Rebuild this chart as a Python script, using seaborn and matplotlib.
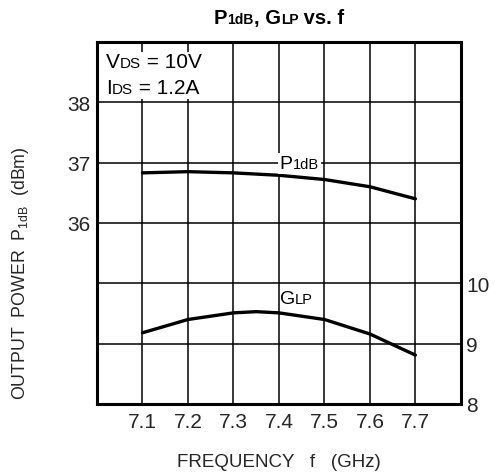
import pandas as pd
import matplotlib
matplotlib.use("Agg")
import matplotlib.pyplot as plt
from matplotlib.patches import Rectangle
from matplotlib.offsetbox import TextArea, HPacker, AnnotationBbox
import seaborn as sns

# data
freq = [7.1, 7.2, 7.3, 7.4, 7.5, 7.6, 7.7]
p1db = [36.83, 36.85, 36.83, 36.79, 36.72, 36.60, 36.40]
glp_freq = [7.1, 7.2, 7.3, 7.35, 7.4, 7.5, 7.6, 7.7]
glp = [9.18, 9.40, 9.51, 9.53, 9.51, 9.40, 9.16, 8.81]

x_grid = [7.0, 7.1, 7.2, 7.3, 7.4, 7.5, 7.6, 7.7, 7.8]
x_labels = ['', '7.1', '7.2', '7.3', '7.4', '7.5', '7.6', '7.7', '']
left_grid = [33, 34, 35, 36, 37, 38, 39]
left_ticks = [36, 37, 38]
right_ticks = [8, 9, 10]

sns.set_style("white")
plt.rcParams['font.family'] = ['Liberation Sans', 'DejaVu Sans']
plt.rcParams['mathtext.fontset'] = 'custom'
plt.rcParams['mathtext.rm'] = 'Liberation Sans'


def rich(ax, pieces, xy, coords, align=(0, 0.5), bg=False, weight='normal'):
    # text with small-caps style subscripts sitting on the baseline
    areas = [TextArea(t, textprops=dict(fontsize=s, fontweight=weight, color='black'))
             for t, s in pieces]
    box = HPacker(children=areas, align='baseline', pad=0, sep=0)
    ab = AnnotationBbox(box, xy, xycoords=coords, box_alignment=align,
                        frameon=bg, pad=0.15, annotation_clip=False,
                        bboxprops=dict(facecolor='white', edgecolor='none'))
    ab.set_zorder(3)
    ax.add_artist(ab)


fig = plt.figure(figsize=(4.95, 4.77), dpi=100)
ax = fig.add_axes([0.196, 0.151, 0.735, 0.759])

df_p = pd.DataFrame({'f': freq, 'p': p1db})
sns.lineplot(data=df_p, x='f', y='p', ax=ax, color='black', linewidth=2.4)

ax.set_xlim(7.0, 7.8)
ax.set_ylim(33, 39)
ax.set_xticks(x_grid)
ax.set_xticklabels(x_labels)
ax.set_yticks(left_grid)
ax.set_yticklabels([str(t) if t in left_ticks else '' for t in left_grid])
ax.grid(True, color='black', linewidth=1.1)
ax.tick_params(axis='x', length=0, labelsize=15, pad=6)
ax.tick_params(axis='y', length=0, labelsize=15, pad=5)
for s in ax.spines.values():
    s.set_linewidth(2.2)
    s.set_color('black')
ax.set_xlabel('')
ax.set_ylabel('')

# white patch behind the bias conditions
ax.add_patch(Rectangle((7.0, 38.05), 0.27, 0.78, facecolor='white',
                       edgecolor='none', zorder=1.8))

ax2 = ax.twinx()
df_g = pd.DataFrame({'f': glp_freq, 'g': glp})
sns.lineplot(data=df_g, x='f', y='g', ax=ax2, color='black', linewidth=2.4)
ax2.set_ylim(8, 14)
ax2.set_yticks(right_ticks)
ax2.tick_params(length=0, labelsize=15, pad=4)
ax2.set_ylabel('')
for s in ax2.spines.values():
    s.set_visible(False)

# curve labels
rich(ax, [('P', 14), ('1dB', 10.5)], (7.402, 36.99), 'data', bg=True)
rich(ax2, [('G', 14), ('LP', 10.5)], (7.402, 9.74), 'data')

# bias conditions
rich(ax, [('V', 15), ('DS', 11), (' = 10V', 15)], (7.02, 38.68), 'data')
rich(ax, [('I', 15), ('DS', 11), (' = 1.2A', 15)], (7.02, 38.25), 'data')

# title
rich(ax, [('P', 14.5), ('1dB', 10), (', G', 14.5), ('LP', 10), (' vs. f', 14.5)],
     (0.564, 0.962), 'figure fraction', align=(0.5, 0.5), weight='bold')

fig.text(0.564, 0.031, 'FREQUENCY   f   (GHz)', fontsize=13.5, ha='center', va='center')
fig.text(0.042, 0.428, r'OUTPUT  POWER  P$_{\mathregular{1dB}}$  (dBm)', fontsize=12.8,
         rotation=90, ha='center', va='center')

fig.savefig('out.png', dpi=100)
